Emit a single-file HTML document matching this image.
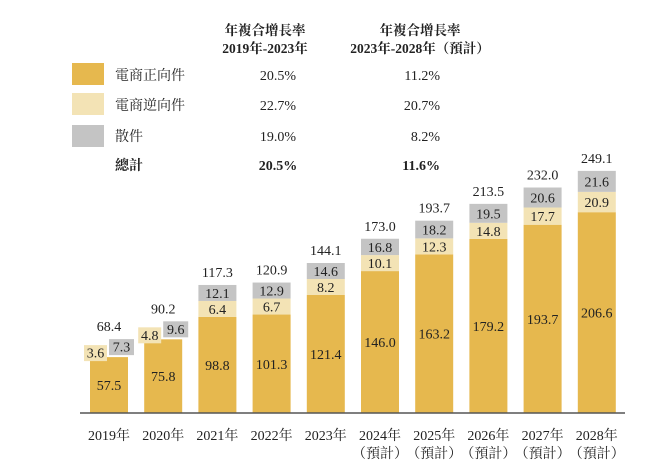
<!DOCTYPE html>
<html><head><meta charset="utf-8"><style>
body{margin:0;background:#fff;width:660px;height:468px;overflow:hidden}
svg text{font-family:"Liberation Serif","Noto Serif CJK SC","Noto Sans CJK TC",serif;fill:#222}
</style></head><body>
<svg width="660" height="468" id="c">
<g>
<text x="265" y="35" font-size="13.5" font-weight="bold" text-anchor="middle">年複合增長率</text>
<text x="265" y="53" font-size="13.5" font-weight="bold" text-anchor="middle">2019年-2023年</text>
<text x="420" y="35" font-size="13.5" font-weight="bold" text-anchor="middle">年複合增長率</text>
<text x="420" y="53" font-size="13.5" font-weight="bold" text-anchor="middle">2023年-2028年（預計）</text>
<rect x="72" y="63" width="32" height="22" fill="#e6b84e"/>
<rect x="72" y="93" width="32" height="22" fill="#f3e3b5"/>
<rect x="72" y="125" width="32" height="22" fill="#c4c4c4"/>
<text x="115" y="80" font-size="14">電商正向件</text>
<text x="115" y="110" font-size="14">電商逆向件</text>
<text x="115" y="141" font-size="14">散件</text>
<text x="115" y="170" font-size="14" font-weight="bold">總計</text>
<text x="278" y="80" font-size="14" text-anchor="middle">20.5%</text>
<text x="278" y="110" font-size="14" text-anchor="middle">22.7%</text>
<text x="278" y="141" font-size="14" text-anchor="middle">19.0%</text>
<text x="278" y="170" font-size="14" font-weight="bold" text-anchor="middle">20.5%</text>
<text x="440" y="80" font-size="14" text-anchor="end">11.2%</text>
<text x="440" y="110" font-size="14" text-anchor="end">20.7%</text>
<text x="440" y="141" font-size="14" text-anchor="end">8.2%</text>
<text x="440" y="170" font-size="14" font-weight="bold" text-anchor="end">11.6%</text>
</g>
<g id="bars"></g>
<line x1="80" y1="413" x2="625" y2="413" stroke="#555" stroke-width="1.5"/>
</svg>
<script>
const categories=["2019年","2020年","2021年","2022年","2023年","2024年","2025年","2026年","2027年","2028年"];
const forecast=[false,false,false,false,false,true,true,true,true,true];
const forward=[57.5,75.8,98.8,101.3,121.4,146.0,163.2,179.2,193.7,206.6];
const reverse=[3.6,4.8,6.4,6.7,8.2,10.1,12.3,14.8,17.7,20.9];
const bulk=[7.3,9.6,12.1,12.9,14.6,16.8,18.2,19.5,20.6,21.6];
const totals=[68.4,90.2,117.3,120.9,144.1,173.0,193.7,213.5,232.0,249.1];
const NS="http://www.w3.org/2000/svg";
const g=document.getElementById('bars');
const base=413,k=0.972,x0=109,step=54.2,bw=38;
const xc=i=>x0+i*step;
const yh=v=>v*k;
function rect(x,y,w,h,fill,name){const r=document.createElementNS(NS,'rect');r.setAttribute('x',x);r.setAttribute('y',y);r.setAttribute('width',w);r.setAttribute('height',h);r.setAttribute('fill',fill);


g.appendChild(r);}
function text(x,y,s,name,fs){const t=document.createElementNS(NS,'text');t.setAttribute('x',x);t.setAttribute('y',y);t.setAttribute('font-size',fs||14);t.setAttribute('text-anchor','middle');t.textContent=s;


g.appendChild(t);}
categories.forEach((c,i)=>{
 const cx=xc(i),x=cx-bw/2;
 const fh=yh(forward[i]),ft=base-fh;
 rect(x,ft,bw,fh,'#e6b84e','bar-forward-'+i);
 text(cx,ft+fh/2+5,forward[i].toFixed(1),'value-forward-'+i);
 let top;
 if(reverse[i]<5){
  const rh=16,gh=16;
  rect(x-6,ft-rh+4,bw/2+4,rh,'#f3e3b5','bar-reverse-'+i);
  text(x-6+(bw/2+4)/2,ft-rh+4+12.5,reverse[i].toFixed(1),'value-reverse-'+i);
  rect(cx,ft-gh-2,bw/2+6,gh,'#c4c4c4','bar-bulk-'+i);
  text(cx+(bw/2+6)/2,ft-gh-2+12.5,bulk[i].toFixed(1),'value-bulk-'+i);
  top=ft-gh-2;
 }else{
  const rh=Math.max(yh(reverse[i]),16),rt=ft-rh;
  rect(x,rt,bw,rh,'#f3e3b5','bar-reverse-'+i);
  text(cx,rt+rh/2+5,reverse[i].toFixed(1),'value-reverse-'+i);
  const gh=Math.max(yh(bulk[i]),16),gt=rt-gh;
  rect(x,gt,bw,gh,'#c4c4c4','bar-bulk-'+i);
  text(cx,gt+gh/2+5,bulk[i].toFixed(1),'value-bulk-'+i);
  top=gt;
 }
 text(cx,top-8,totals[i].toFixed(1),'total-label-'+i);
 text(cx,440,c,'x-label-'+i);
 if(forecast[i]) text(cx,458,'（預計）','x-label-forecast-'+i);
});
</script>
</body></html>
